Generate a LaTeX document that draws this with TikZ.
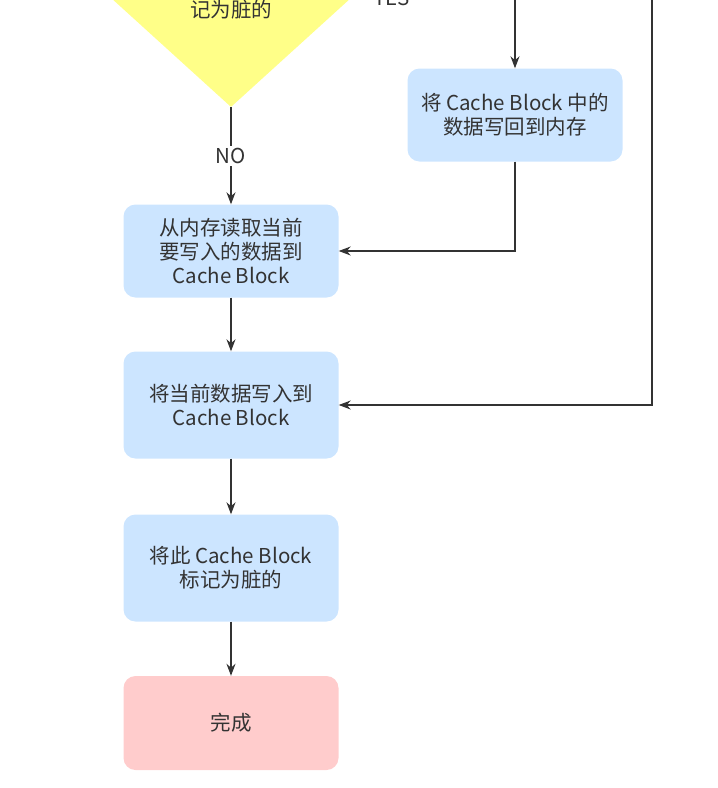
\documentclass[tikz,border=0pt]{standalone}
\usepackage{fontspec}
\setmainfont{Noto Sans CJK SC}
\usepackage{tikz}
\usetikzlibrary{shapes.geometric,arrows.meta}
\definecolor{boxblue}{HTML}{CCE5FF}
\definecolor{boxred}{HTML}{FFCCCC}
\definecolor{boxyellow}{HTML}{FFFF88}
\definecolor{ink}{HTML}{333333}
\tikzset{
  proc/.style={rectangle, rounded corners=12pt, fill=boxblue, minimum width=215pt,
    minimum height=93pt, align=center, text=ink, font=\fontsize{20.5}{24}\selectfont},
  decision/.style={diamond, fill=boxyellow, inner sep=0pt, minimum width=240pt,
    minimum height=218pt},
  flow/.style={draw=ink, line width=1.2pt, -{Stealth[length=12pt,width=9pt]}},
  lbl/.style={fill=white, text=ink, inner sep=2pt, font=\fontsize{20.5}{24}\selectfont}
}
\begin{document}
\begin{tikzpicture}[x=1pt,y=-1pt]
\useasboundingbox (0,0) rectangle (718,788);
\node[decision, label={[align=center, text=ink, font=\fontsize{20.5}{24}\selectfont]center:Cache Block 是否被标\\记为脏的}] (dirty) at (231,-2) {};
\node[proc] (wb) at (515,115) {将 Cache Block 中的\\数据写回到内存};
\node[proc] (read) at (231,251) {从内存读取当前\\要写入的数据到\\Cache Block};
\node[proc, minimum height=107pt] (write) at (231,405) {将当前数据写入到\\Cache Block};
\node[proc, minimum height=107pt] (mark) at (231,568) {将此 Cache Block\\标记为脏的};
\node[proc, fill=boxred, minimum height=94pt] (done) at (231,723) {完成};
\coordinate (hit) at (652,-20);
\draw[flow] (dirty.south) -- node[lbl] {NO} (read.north);
\draw[flow] (dirty.east) -- node[lbl, pos=0.25] {YES} (dirty.east -| wb.north) -- (wb.north);
\draw[flow] (wb.south) |- (read.east);
\draw[flow] (hit) |- (write.east);
\draw[flow] (read) -- (write);
\draw[flow] (write) -- (mark);
\draw[flow] (mark) -- (done);
\end{tikzpicture}
\end{document}
